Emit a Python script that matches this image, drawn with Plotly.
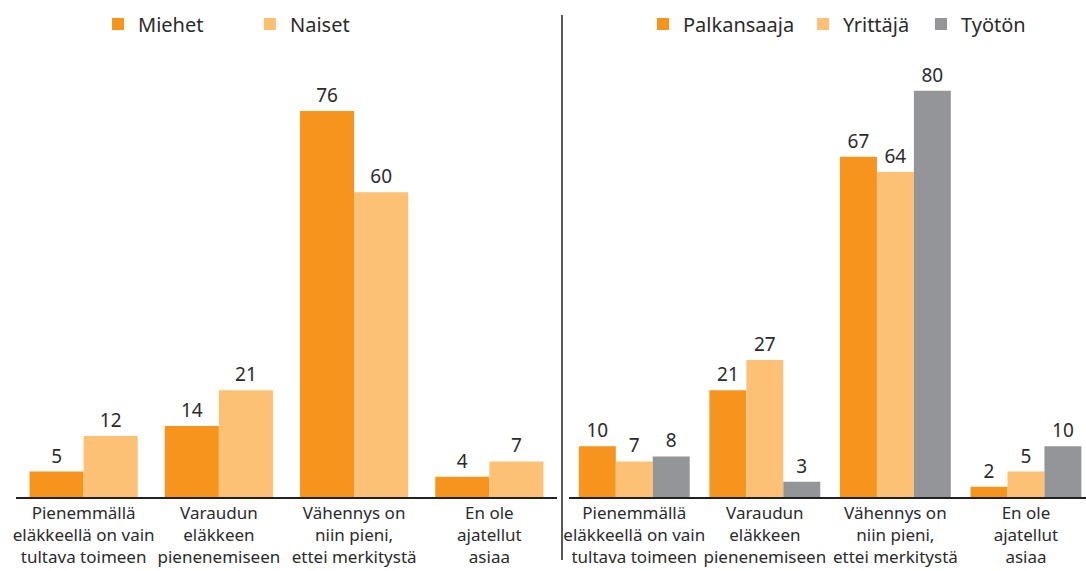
import plotly.graph_objects as go

categories = ["Pienemmällä<br>eläkkeellä on vain<br>tultava toimeen",
              "Varaudun<br>eläkkeen<br>pienenemiseen",
              "Vähennys on<br>niin pieni,<br>ettei merkitystä",
              "En ole<br>ajatellut<br>asiaa"]

miehet = [5, 14, 76, 4]
naiset = [12, 21, 60, 7]

palkansaaja = [10, 21, 67, 2]
yrittaja = [7, 27, 64, 5]
tyoton = [8, 3, 80, 10]

ORANGE = "#F7941E"
LIGHT = "#FDC176"
GRAY = "#939598"
FONT = "Noto Sans"
TXT = "#2b2b2b"

fig = go.Figure()

def add_bar(name, vals, color, xa, ya, legend, off, w):
    fig.add_trace(go.Bar(
        name=name, x=categories, y=vals, xaxis=xa, yaxis=ya, legend=legend,
        marker=dict(color=color, line=dict(width=0)),
        text=[str(v) for v in vals], textposition="outside",
        textfont=dict(family=FONT, size=19, color=TXT),
        cliponaxis=False, offset=off, width=w, hoverinfo="skip"))

add_bar("Miehet", miehet, ORANGE, "x", "y", "legend", -0.4, 0.4)
add_bar("Naiset", naiset, LIGHT, "x", "y", "legend2", 0.0, 0.4)
rw = 0.283
add_bar("Palkansaaja", palkansaaja, ORANGE, "x2", "y2", "legend3", -1.5 * rw, rw)
add_bar("Yrittäjä", yrittaja, LIGHT, "x2", "y2", "legend4", -0.5 * rw, rw)
add_bar("Työtön", tyoton, GRAY, "x2", "y2", "legend5", 0.5 * rw, rw)

axis_common = dict(showline=True, linecolor="#222222", linewidth=1.5, ticks="",
                   tickfont=dict(family=FONT, size=17, color=TXT), showgrid=False,
                   zeroline=False, fixedrange=True, automargin=False, tickangle=0)
yaxis_common = dict(range=[0, 90], visible=False, showgrid=False, zeroline=False)

def leg(xpx):
    return dict(orientation="h", x=xpx / 1086, xanchor="left", y=1.035, yanchor="middle",
                font=dict(family=FONT, size=20, color=TXT), bgcolor="rgba(0,0,0,0)")

fig.update_layout(
    width=1086, height=571,
    margin=dict(l=0, r=0, t=40, b=74, autoexpand=False),
    paper_bgcolor="white", plot_bgcolor="white",
    font=dict(family=FONT, color=TXT),
    xaxis=dict(domain=[16 / 1086, 557 / 1086], anchor="y", range=[-0.5, 3.5], **axis_common),
    yaxis=dict(domain=[0, 1], anchor="x", **yaxis_common),
    xaxis2=dict(domain=[569 / 1086, 1.0], anchor="y2", range=[-0.5, 3.46], **axis_common),
    yaxis2=dict(domain=[0, 1], anchor="x2", **yaxis_common),
    legend=leg(98), legend2=leg(250), legend3=leg(643), legend4=leg(803), legend5=leg(921),
    showlegend=True,
    shapes=[dict(type="line", xref="paper", yref="paper", x0=562 / 1086, x1=562 / 1086,
                 y0=(497 - 15) / 457, y1=(497 - 560) / 457,
                 line=dict(color="#222222", width=1.5))],
)

fig.write_html("out.html", config={"displayModeBar": False},
               post_script="document.body.style.margin='0';document.body.style.overflow='hidden';")
